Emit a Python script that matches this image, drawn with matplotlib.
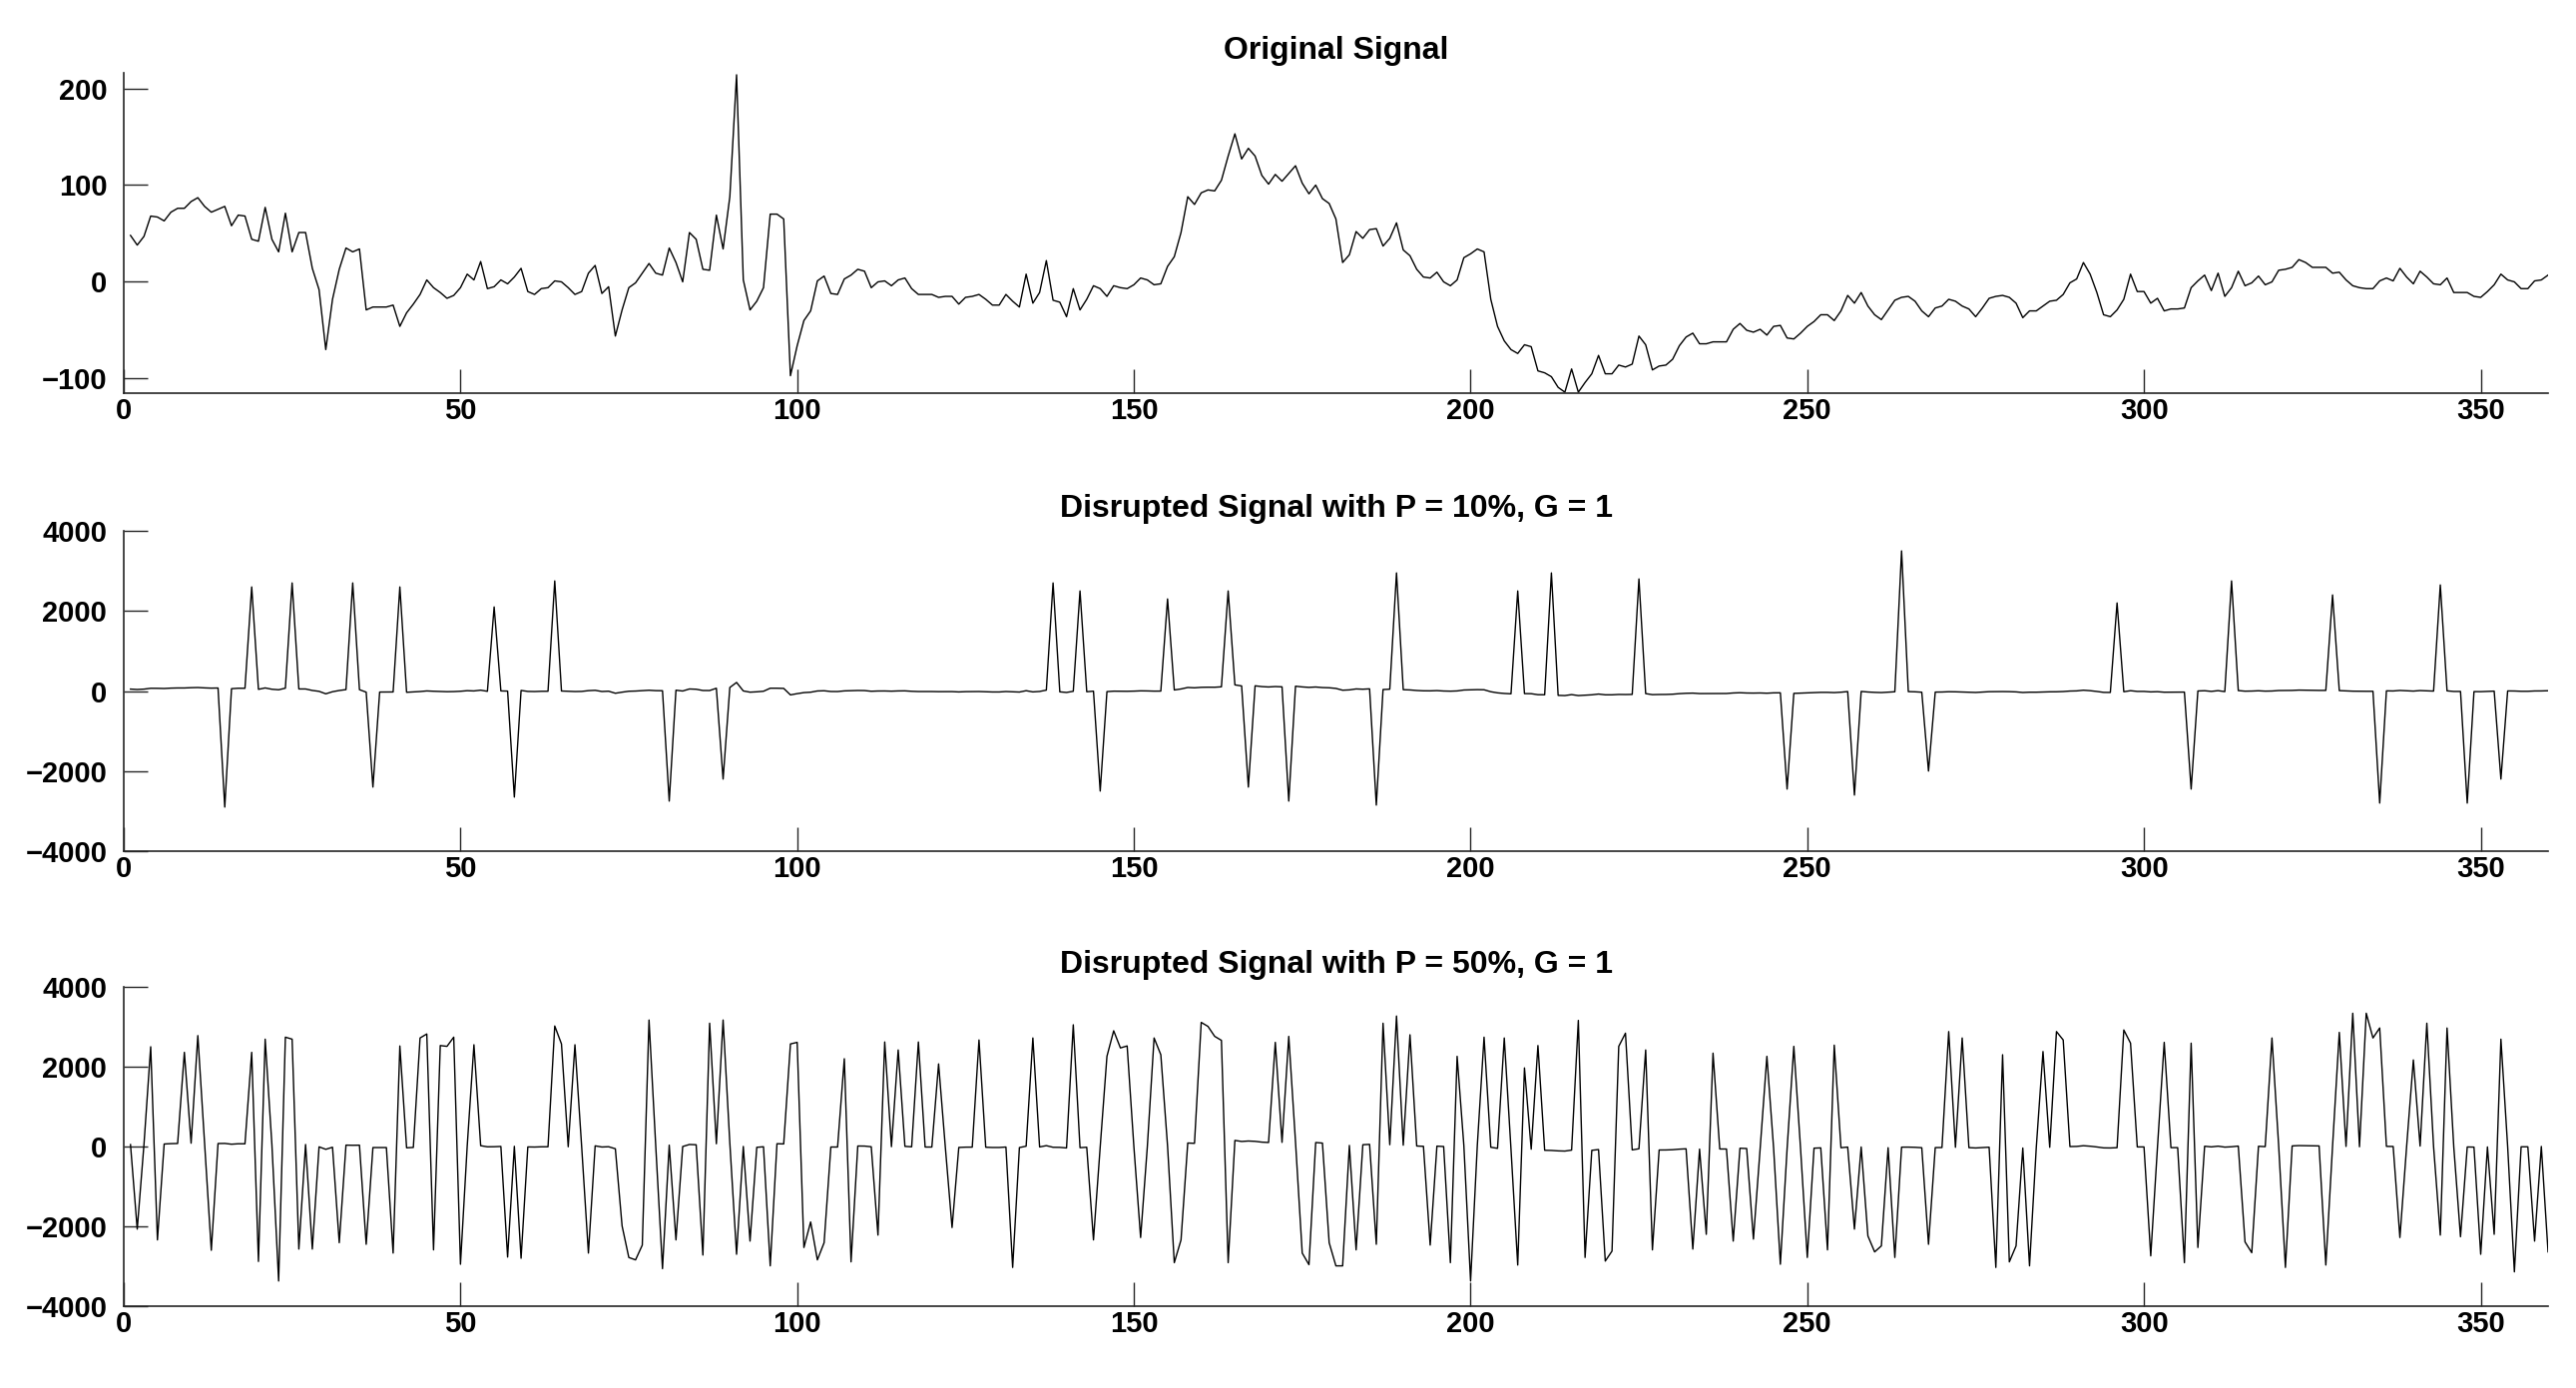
import numpy as np
import matplotlib
matplotlib.use("Agg")
import matplotlib.pyplot as plt

plt.rcParams['font.family'] = ['Liberation Sans', 'DejaVu Sans']
plt.rcParams['font.weight'] = 'bold'

# original signal, samples 1..360
original = [48,38,47,68,67,63,72,76,76,83,87,78,72,75,78,58,69,68,44,42,
            77,44,31,71,31,51,51,14,-8,-70,-18,13,35,31,34,-29,-26,-26,-26,-24,
            -46,-32,-23,-13,2,-6,-11,-17,-14,-6,8,2,21,-7,-5,2,-2,5,14,-10,
            -13,-7,-6,1,0,-6,-13,-10,9,17,-12,-5,-56,-29,-6,-1,9,19,9,7,
            35,20,0,51,44,13,12,69,34,88,214,2,-29,-20,-6,70,70,65,-97,-66,
            -40,-30,1,6,-12,-13,3,7,13,11,-6,0,1,-4,2,4,-7,-13,-13,-13,
            -16,-15,-15,-23,-16,-15,-13,-18,-24,-24,-13,-20,-26,8,-22,-11,22,-19,-21,-36,
            -7,-29,-18,-4,-7,-15,-4,-6,-7,-3,4,2,-3,-2,16,26,51,88,80,92,
            95,94,105,130,153,127,138,130,110,101,111,104,112,120,102,91,100,86,81,65,
            20,28,52,45,54,55,37,45,61,33,27,13,5,4,10,0,-4,2,25,29,
            34,31,-18,-46,-61,-70,-74,-65,-67,-92,-94,-98,-109,-114,-90,-114,-104,-95,-76,-95,
            -95,-86,-88,-85,-56,-65,-91,-87,-86,-80,-66,-57,-53,-64,-64,-62,-62,-62,-49,-43,
            -50,-52,-49,-55,-46,-45,-58,-59,-53,-46,-41,-34,-34,-40,-30,-14,-22,-11,-25,-34,
            -39,-29,-19,-16,-15,-20,-30,-36,-27,-25,-18,-20,-25,-28,-36,-27,-17,-15,-14,-16,
            -22,-37,-30,-30,-25,-20,-19,-13,-1,3,20,8,-11,-34,-36,-29,-18,8,-10,-10,
            -22,-17,-30,-28,-28,-27,-6,1,7,-9,9,-15,-6,11,-4,-1,6,-3,0,12,
            13,15,23,20,15,15,15,9,10,2,-4,-6,-7,-7,1,4,1,14,5,-2,
            11,5,-2,-3,4,-11,-11,-11,-15,-16,-10,-3,8,2,0,-7,-7,1,2,7]

# P = 10% disruption: sample index -> value
mid_idx = [15,19,25,34,37,41,55,58,64,81,89,138,142,145,155,164,167,173,186,189,
           207,212,225,247,257,264,268,296,307,313,328,335,344,348,353]
mid_val = [-2900,2600,2700,2700,-2400,2600,2100,-2650,2750,-2750,-2200,2700,2500,-2500,2300,2500,-2400,-2750,-2850,2950,
           2500,2950,2800,-2450,-2600,3500,-2000,2200,-2450,2750,2400,-2800,2650,-2800,-2200]

# P = 50% disruption: sample index -> value
bot_idx = [2,4,5,9,11,13,19,20,21,23,24,25,26,28,32,36,40,41,44,45,
           46,47,48,49,50,52,57,59,64,65,67,69,74,75,76,77,78,80,82,86,
           87,89,91,93,96,99,100,101,102,103,104,107,108,112,113,115,118,121,123,127,
           132,135,141,144,146,147,148,149,151,153,154,156,157,160,161,162,163,164,171,173,
           175,176,179,180,181,183,186,187,189,191,194,197,198,200,202,205,207,208,210,216,
           217,220,221,222,223,226,227,233,235,236,239,242,244,246,248,250,253,254,257,259,
           260,261,263,268,271,273,278,279,280,281,283,285,287,288,297,298,301,303,306,307,
           308,315,316,319,321,327,329,331,333,334,335,338,340,342,344,345,347,350,352,353,
           355,358,360]
bot_val = [-2070,2500,-2340,2360,2780,-2600,2360,-2880,2690,-3370,2740,2690,-2570,-2570,-2410,-2450,-2670,2520,2720,2820,
           -2590,2530,2510,2740,-2950,2550,-2770,-2800,3020,2570,2550,-2670,-1990,-2780,-2840,-2470,3170,-3060,-2340,-2720,
           3090,3170,-2700,-2370,-2990,2570,2610,-2530,-1890,-2840,-2410,2200,-2890,-2220,2620,2420,2620,2070,-2030,2670,
           -3030,2720,3050,-2340,2260,2900,2470,2520,-2280,2720,2300,-2910,-2340,3110,3010,2760,2660,-2910,2610,2760,
           -2670,-2960,-2410,-2990,-2990,-2590,-2450,3090,3270,2800,-2470,-2910,2260,-3370,2740,2720,-2970,1970,2530,3160,
           -2780,-2870,-2620,2510,2840,2420,-2590,-2570,-2200,2340,-2370,-2320,2260,-2950,2510,-2780,-2590,2540,-2070,-2240,
           -2640,-2490,-2780,-2450,2880,2720,-3030,2300,-2890,-2490,-2990,2380,2880,2670,2920,2590,-2740,2610,-2910,2590,
           -2530,-2390,-2660,2720,-3030,-2970,2860,3340,3340,2720,2970,-2280,2170,3090,-2220,2970,-2260,-2700,-2200,2690,
           -3140,-2370,-2640]

n = np.arange(1, len(original) + 1)
orig = np.array(original, dtype=float)
mid = orig.copy()
mid[np.array(mid_idx) - 1] = mid_val
bot = orig.copy()
bot[np.array(bot_idx) - 1] = bot_val

fig = plt.figure(figsize=(25.81, 13.91), dpi=100)
L, R = 124 / 2581, 2553 / 2581
H = 1391
boxes = [(73, 394), (532, 853), (989, 1309)]
titles = ["Original Signal", "Disrupted Signal with P = 10%, G = 1",
          "Disrupted Signal with P = 50%, G = 1"]
series = [orig, mid, bot]
ylims = [(-115, 216), (-4000, 4000), (-4000, 4000)]
yticks = [[-100, 0, 100, 200], [-4000, -2000, 0, 2000, 4000], [-4000, -2000, 0, 2000, 4000]]

for (t, b), ttl, y, yl, yt in zip(boxes, titles, series, ylims, yticks):
    ax = fig.add_axes([L, 1 - b / H, R - L, (b - t) / H])
    ax.plot(n, y, color='black', lw=1.0)
    ax.set_xlim(0, 360)
    ax.set_ylim(*yl)
    ax.set_yticks(yt)
    ax.set_xticks(np.arange(0, 351, 50))
    ax.spines['top'].set_visible(False)
    ax.spines['right'].set_visible(False)
    for s in ['left', 'bottom']:
        ax.spines[s].set_linewidth(1.2)
        ax.spines[s].set_color('#262626')
    ax.tick_params(direction='in', length=17, width=1.0, labelsize=21, colors='#262626',
                   labelcolor='black')
    ax.tick_params(axis='y', pad=12)
    ax.tick_params(axis='x', pad=3)
    for lab in ax.get_xticklabels() + ax.get_yticklabels():
        lab.set_fontweight('bold')
    ax.set_title(ttl, fontsize=23, fontweight='bold', pad=10)

fig.savefig("out.png", dpi=100)
